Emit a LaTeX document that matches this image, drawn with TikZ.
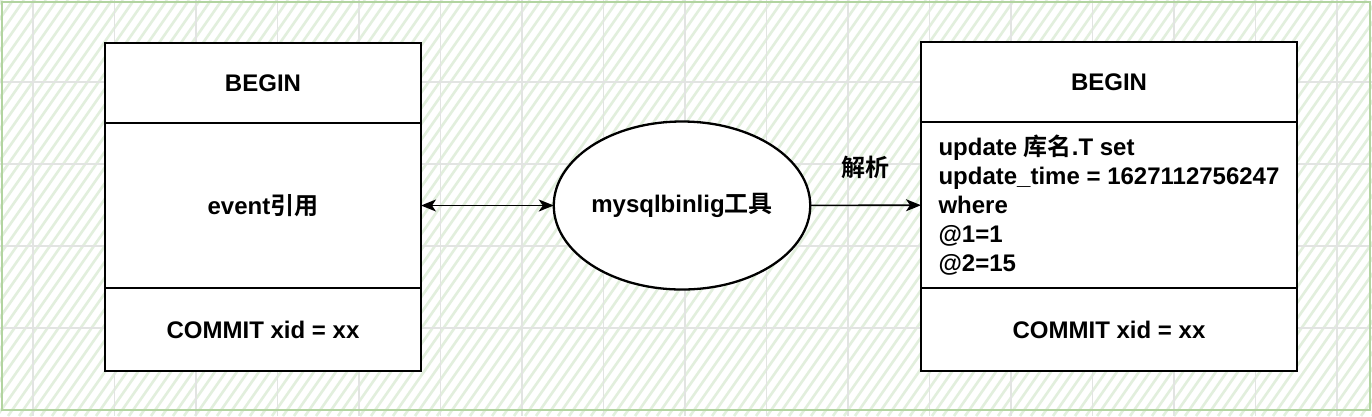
\documentclass[tikz,border=0pt]{standalone}
\usepackage{fontspec}
\setmainfont{Liberation Sans}
\newfontfamily\cjk{Noto Sans CJK SC}[BoldFont={* Bold}]
\usepackage{tikz}
\usetikzlibrary{shapes.geometric,arrows.meta,positioning}
\definecolor{hatchgreen}{RGB}{226,239,221}
\definecolor{framegreen}{RGB}{178,212,160}
\definecolor{gridgray}{RGB}{226,228,226}

\begin{document}
\begin{tikzpicture}[x=1pt,y=-1pt,>={Stealth[length=15pt,width=12pt,inset=4pt]}]
\tikzstyle{every node}=[font=\fontsize{24}{29}\selectfont\bfseries]
\tikzstyle{part}=[draw,line width=2.3pt,fill=white,inner sep=0pt,outer sep=0pt]
\tikzstyle{link}=[line width=1.6pt]

\useasboundingbox (0,0) rectangle (1372,416);
\fill[white] (0,0) rectangle (1372,416);

% background
\begin{scope}
\clip (0,0) rectangle (1372,416);
\foreach \x in {-300,-289,...,1372}
  \draw[hatchgreen,line width=2.6pt] (\x,416) -- ++(291,-416);
\foreach \k in {0,...,16}
  \draw[gridgray,line width=1.2pt] ({33+81.5*\k},0) -- ({33+81.5*\k},416);
\foreach \y in {82,164,246,328}
  \draw[gridgray,line width=1.2pt] (0,\y) -- (1372,\y);
\end{scope}
\draw[framegreen,line width=2.5pt] (2,2) rectangle (1370,410);

\node[part,minimum width=316pt,minimum height=80pt] (lbegin) at (263,83) {BEGIN};
\node[part,minimum width=316pt,minimum height=165pt,below=0pt of lbegin] (lbody) {event{\cjk 引用}};
\node[part,minimum width=316pt,minimum height=83pt,below=0pt of lbody] (lcommit) {COMMIT xid = xx};

\node[part,minimum width=376pt,minimum height=80pt] (rbegin) at (1109,82) {BEGIN};
\node[part,minimum width=376pt,minimum height=166pt,align=left,below=0pt of rbegin] (rbody)
  {update {\cjk 库名}.T set\\update\_time = 1627112756247\\where\\@1=1\\@2=15};
\node[part,minimum width=376pt,minimum height=83pt,below=0pt of rbody] (rcommit) {COMMIT xid = xx};

\node[part,ellipse,minimum width=255pt,minimum height=168pt] (tool) at (682,205.5) {mysqlbinlig{\cjk 工具}};

\draw[link,<->] (lbody) -- (tool);
\draw[link,->] (tool) -- node[above=26pt,inner sep=0pt] {\cjk 解析} (rbody);

\end{tikzpicture}
\end{document}
